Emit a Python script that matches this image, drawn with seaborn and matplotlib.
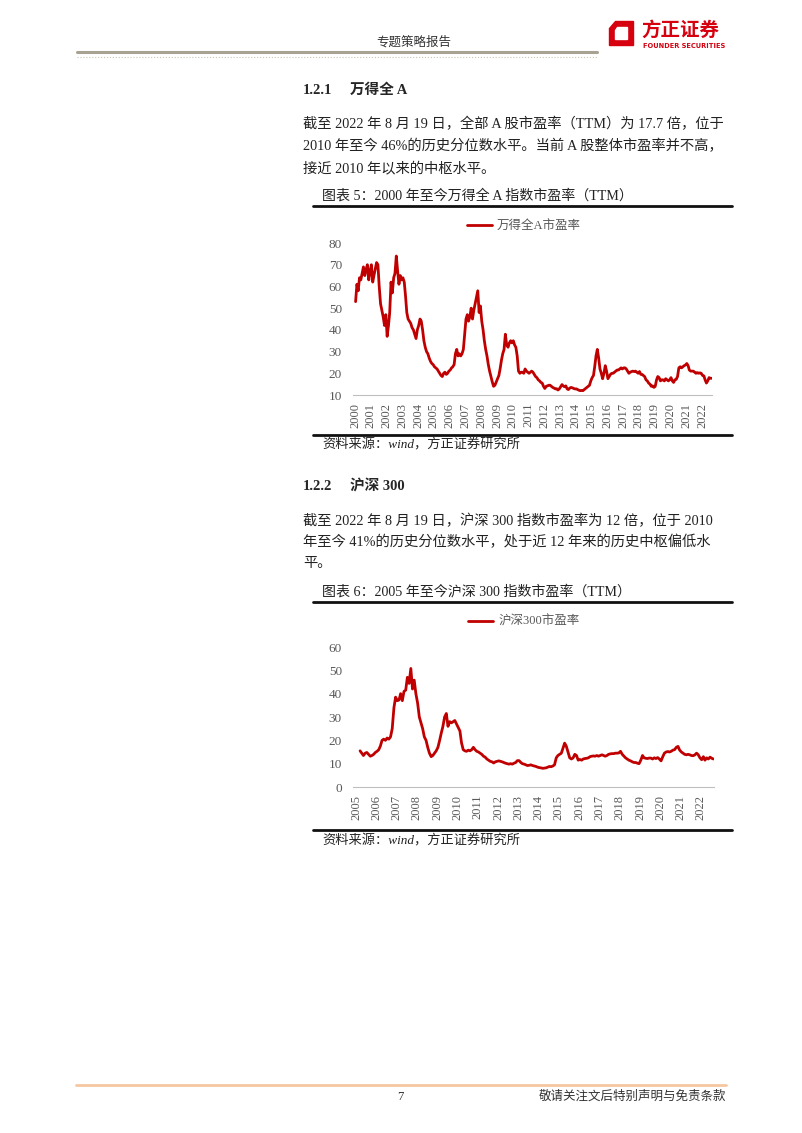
import numpy as np
import pandas as pd
import matplotlib
matplotlib.use('Agg')
from matplotlib import pyplot as plt
import matplotlib.dates as mdates
from matplotlib.lines import Line2D
from matplotlib.patches import Polygon
import seaborn as sns

# 万得全A 市盈率(TTM), monthly, Jan 2000 - Aug 2022
wind_start = '2000-01-01'
wind_pe = [
    53, 61, 58, 64, 63, 66, 69, 65, 68, 70, 63, 67,            # 2000
    70, 62, 65, 68, 71, 70, 60, 52, 49, 46, 42, 47,            # 2001
    37, 42, 48, 62, 57, 64, 66, 74, 67, 61, 65, 63,            # 2002
    64, 62, 56, 48, 45, 44, 43, 41, 40, 38, 36, 40,            # 2003
    42, 45, 44, 40, 35, 32, 30, 29, 27, 25.5, 24.5, 24,        # 2004
    23, 22.5, 22, 21, 20, 19, 18.5, 20, 20.5, 19.5, 20, 21,    # 2005
    21.5, 22.5, 23, 24, 29, 31, 28, 29, 28, 29, 31, 38,        # 2006
    45, 47, 44, 46, 50, 45, 49, 52, 55, 58, 48, 51,            # 2007
    44, 40, 35, 31, 28, 24, 21, 18.5, 16, 14, 14.5, 16,        # 2008
    17.5, 19, 22, 26, 29, 31, 38, 33, 32, 34, 35, 34,          # 2009
    35, 33, 32, 28, 21, 20, 20.5, 20.5, 20, 22, 21, 20.5,      # 2010
    20, 20.5, 21, 20.5, 19.5, 18.5, 18, 17, 16.5, 15.8, 15.5, 14,   # 2011
    13, 14, 14.2, 14.5, 14.5, 14, 13.5, 13.2, 12.8, 12.9, 12.3, 12.8,  # 2012
    13.8, 14.8, 14.2, 13.8, 14.2, 12.8, 12.5, 13.2, 13.5, 13.3, 13, 12.8,  # 2013
    12.8, 12.5, 12.2, 12, 12.1, 12, 12.5, 13, 13.5, 14, 14.5, 16.5,    # 2014
    18, 19, 23, 28, 31, 27, 22, 20, 17.5, 20, 23.5, 21,        # 2015
    17.5, 18.5, 19.5, 20, 20, 20.5, 21, 21.5, 21.5, 22, 22.5, 22,      # 2016
    22.5, 22.5, 22, 21, 20, 20.5, 20.8, 21, 20.8, 21, 20.5, 20,        # 2017
    20.8, 19.5, 19.5, 19, 18.5, 17, 16.5, 15.5, 15, 14, 14.2, 13.5,    # 2018
    14, 17, 18.5, 18, 16.5, 17, 17, 16.5, 17.5, 17, 16.5, 17,          # 2019
    18, 16.5, 15.8, 17, 17.2, 18.5, 22.5, 23, 22.5, 23, 23.5, 23.8,    # 2020
    24.5, 23.5, 21.5, 21, 21, 21, 20.5, 20, 20.3, 20, 20.2, 20,        # 2021
    19, 18.8, 17, 15.5, 16.5, 18, 17.7, 17.7,                          # 2022
]

# 沪深300 市盈率(TTM), monthly, Mar 2005 - Aug 2022
hs300_start = '2005-03-01'
hs300_pe = [
    15.5, 14.5, 13.5, 14.5, 14.8, 14, 13.2, 13.5, 14, 14.8,            # 2005
    15.3, 16, 17.5, 20, 20.5, 20, 21, 20.5, 21.5, 25, 34, 38.5,        # 2006
    37, 37.3, 40, 37, 41, 41.5, 47, 44.4, 50.8, 42, 45.8, 40,          # 2007
    36, 30, 27.5, 25, 21.5, 20, 17, 14.5, 13, 13.5, 14.5, 15.5,        # 2008
    17, 20, 23, 26, 30, 31.5, 26, 28, 27.5, 28, 28.5, 27,              # 2009
    25.5, 24, 19, 16, 15.5, 15.3, 15.8, 15.5, 16, 17, 16, 15.3,        # 2010
    15, 14.5, 14, 13.2, 12.8, 12, 11.5, 11, 10.8, 10.3, 10.8, 11,      # 2011
    11.2, 11, 10.8, 10.5, 10.2, 10, 9.8, 10, 9.8, 10.2, 10.5, 11.3,    # 2012
    11.3, 10.5, 10, 9.8, 9.5, 9.2, 9.3, 9.5, 9.2, 9, 8.8, 8.5,         # 2013
    8.3, 8.2, 8, 8.1, 8.2, 8.5, 8.8, 8.7, 9, 9.5, 12.5, 13.5,          # 2014
    14, 14.5, 16.5, 18.8, 17.5, 15, 12.5, 12, 12.5, 14, 13.5, 11.5,    # 2015
    11.8, 11.5, 12, 12.2, 12.3, 12.5, 13, 13.2, 13.3, 13.2, 13.5, 13.2,    # 2016
    13.5, 13.8, 13.5, 13.2, 13.5, 14, 14.2, 14.3, 14.3, 14.5, 14.5, 14.6,  # 2017
    15.3, 14, 13.3, 12.5, 12, 11.5, 11.2, 10.8, 10.5, 10.5, 10.2, 10,      # 2018
    11.5, 13.5, 12.5, 12.3, 12.2, 12.4, 12.4, 12, 12.5, 12.2, 12.6, 12,    # 2019
    11.2, 13, 14.5, 15, 15.2, 15, 15.3, 15.8, 16, 17, 17.4, 15.8,          # 2020
    15, 14.5, 14, 13.8, 14, 13.8, 13.5, 13.4, 13.8, 14.5, 13.8, 12.5,      # 2021
    11.7, 13, 11.5, 12.5, 12, 12.8, 12.3, 12,                              # 2022
]

wind_label = '万得全A市盈率'
hs300_label = '沪深300市盈率'
wind_yticks = [10, 20, 30, 40, 50, 60, 70, 80]
hs300_yticks = [0, 10, 20, 30, 40, 50, 60]

RED = '#c00000'
GREY = '#595959'

sns.set_style('white')
plt.rcParams['font.family'] = ['Liberation Serif', 'Noto Sans CJK SC']
plt.rcParams['axes.unicode_minus'] = False

W, H = 802, 1133
fig = plt.figure(figsize=(W / 100, H / 100), dpi=100)


def fx(x):
    return x / W


def fy(y):
    return 1 - y / H


def hline(x0, x1, y, color, lw, ls='-'):
    fig.add_artist(Line2D([fx(x0), fx(x1)], [fy(y), fy(y)], transform=fig.transFigure,
                          color=color, lw=lw, ls=ls))


def txt(x, y, s, size, **kw):
    fig.text(fx(x), fy(y), s, fontsize=size, va='center', **kw)


def pe_chart(start, values, label, yticks, top, bottom, right, xlim, legend_y):
    ax = fig.add_axes([fx(353), fy(bottom), (right - 353) / W, (bottom - top) / H])
    dates = pd.date_range(start, periods=len(values), freq='MS') + pd.Timedelta(days=14)
    sns.lineplot(x=dates, y=values, ax=ax, color=RED, lw=2.0, label=label)
    ax.set_xlim(pd.Timestamp(xlim[0]), pd.Timestamp(xlim[1]))
    ax.set_ylim(yticks[0], yticks[-1])
    ax.set_yticks(yticks)
    ax.xaxis.set_major_locator(mdates.YearLocator())
    ax.xaxis.set_major_formatter(mdates.DateFormatter('%Y'))
    for s in ['left', 'right', 'top']:
        ax.spines[s].set_visible(False)
    ax.spines['bottom'].set_color('#bfbfbf')
    ax.spines['bottom'].set_linewidth(0.8)
    ax.tick_params(axis='y', length=0, pad=8, labelsize=9.5, labelcolor=GREY)
    ax.tick_params(axis='x', direction='out', length=2.5, width=0.8, color='#bfbfbf',
                   pad=3, labelsize=9, labelcolor=GREY, labelrotation=90)
    ax.set_xlabel('')
    ax.set_ylabel('')
    ax.grid(False)
    ax.legend(loc='center', bbox_to_anchor=(fx(524), fy(legend_y)), bbox_transform=fig.transFigure,
              frameon=False, handlelength=2.0, handletextpad=0.4, fontsize=9, labelcolor=GREY)
    return ax


# header
txt(414, 42, '专题策略报告', 9, ha='center', color='#333333')
hline(77, 597, 52, '#a8a292', 2.2)
hline(77, 597, 57, '#c9c4b4', 0.8, ls=':')
fig.add_artist(Polygon([(fx(615), fy(21)), (fx(633), fy(21)), (fx(633), fy(45)), (fx(609), fy(45)), (fx(609), fy(28))],
                       closed=True, transform=fig.transFigure, color='#d7000f'))
fig.add_artist(Polygon([(fx(617), fy(27)), (fx(627), fy(27)), (fx(627), fy(39)), (fx(615), fy(39)), (fx(615), fy(30))],
                       closed=True, transform=fig.transFigure, color='white'))
txt(641, 30, '方正证券', 14, ha='left', color='#d7000f', weight='bold', family=['Noto Sans CJK SC'])
txt(643, 46, 'FOUNDER SECURITIES', 4.8, ha='left', color='#d7000f', weight='bold', family=['DejaVu Sans'])

# section 1.2.1
txt(303, 90, '1.2.1', 10.5, ha='left', weight='bold')
txt(350, 90, '万得全 A', 10.5, ha='left', weight='bold')
txt(303, 124, '截至 2022 年 8 月 19 日，全部 A 股市盈率（TTM）为 17.7 倍，位于', 10.3, ha='left', color='#222222')
txt(303, 146, '2010 年至今 46%的历史分位数水平。当前 A 股整体市盈率并不高，', 10.3, ha='left', color='#222222')
txt(303, 168, '接近 2010 年以来的中枢水平。', 10.3, ha='left', color='#222222')

txt(322, 196, '图表 5：2000 年至今万得全 A 指数市盈率（TTM）', 10.1, ha='left', color='#222222')
hline(313, 732, 206, '#111111', 2)
pe_chart(wind_start, wind_pe, wind_label, wind_yticks, 243, 395, 712,
         ('1999-11-16', '2022-08-22'), 226)
hline(313, 732, 435, '#111111', 2)
txt(322, 445, '资料来源：wind，方正证券研究所', 9.5, ha='left', style='italic', color='#222222')

# section 1.2.2
txt(303, 487, '1.2.2', 10.5, ha='left', weight='bold')
txt(350, 487, '沪深 300', 10.5, ha='left', weight='bold')
txt(303, 521, '截至 2022 年 8 月 19 日，沪深 300 指数市盈率为 12 倍，位于 2010', 10.3, ha='left', color='#222222')
txt(303, 542, '年至今 41%的历史分位数水平，处于近 12 年来的历史中枢偏低水', 10.3, ha='left', color='#222222')
txt(303, 563, '平。', 10.3, ha='left', color='#222222')

txt(322, 592, '图表 6：2005 年至今沪深 300 指数市盈率（TTM）', 10.1, ha='left', color='#222222')
hline(313, 732, 602, '#111111', 2)
pe_chart(hs300_start, hs300_pe, hs300_label, hs300_yticks, 647, 787, 714,
         ('2004-11-08', '2022-08-25'), 622)
hline(313, 732, 830, '#111111', 2)
txt(322, 841, '资料来源：wind，方正证券研究所', 9.5, ha='left', style='italic', color='#222222')

# footer
hline(76, 726, 1085, '#f4c7a1', 2)
txt(400, 1097, '7', 9, ha='center', color='#333333')
txt(726, 1097, '敬请关注文后特别声明与免责条款', 9, ha='right', color='#333333')

fig.savefig('out.png', dpi=100)
